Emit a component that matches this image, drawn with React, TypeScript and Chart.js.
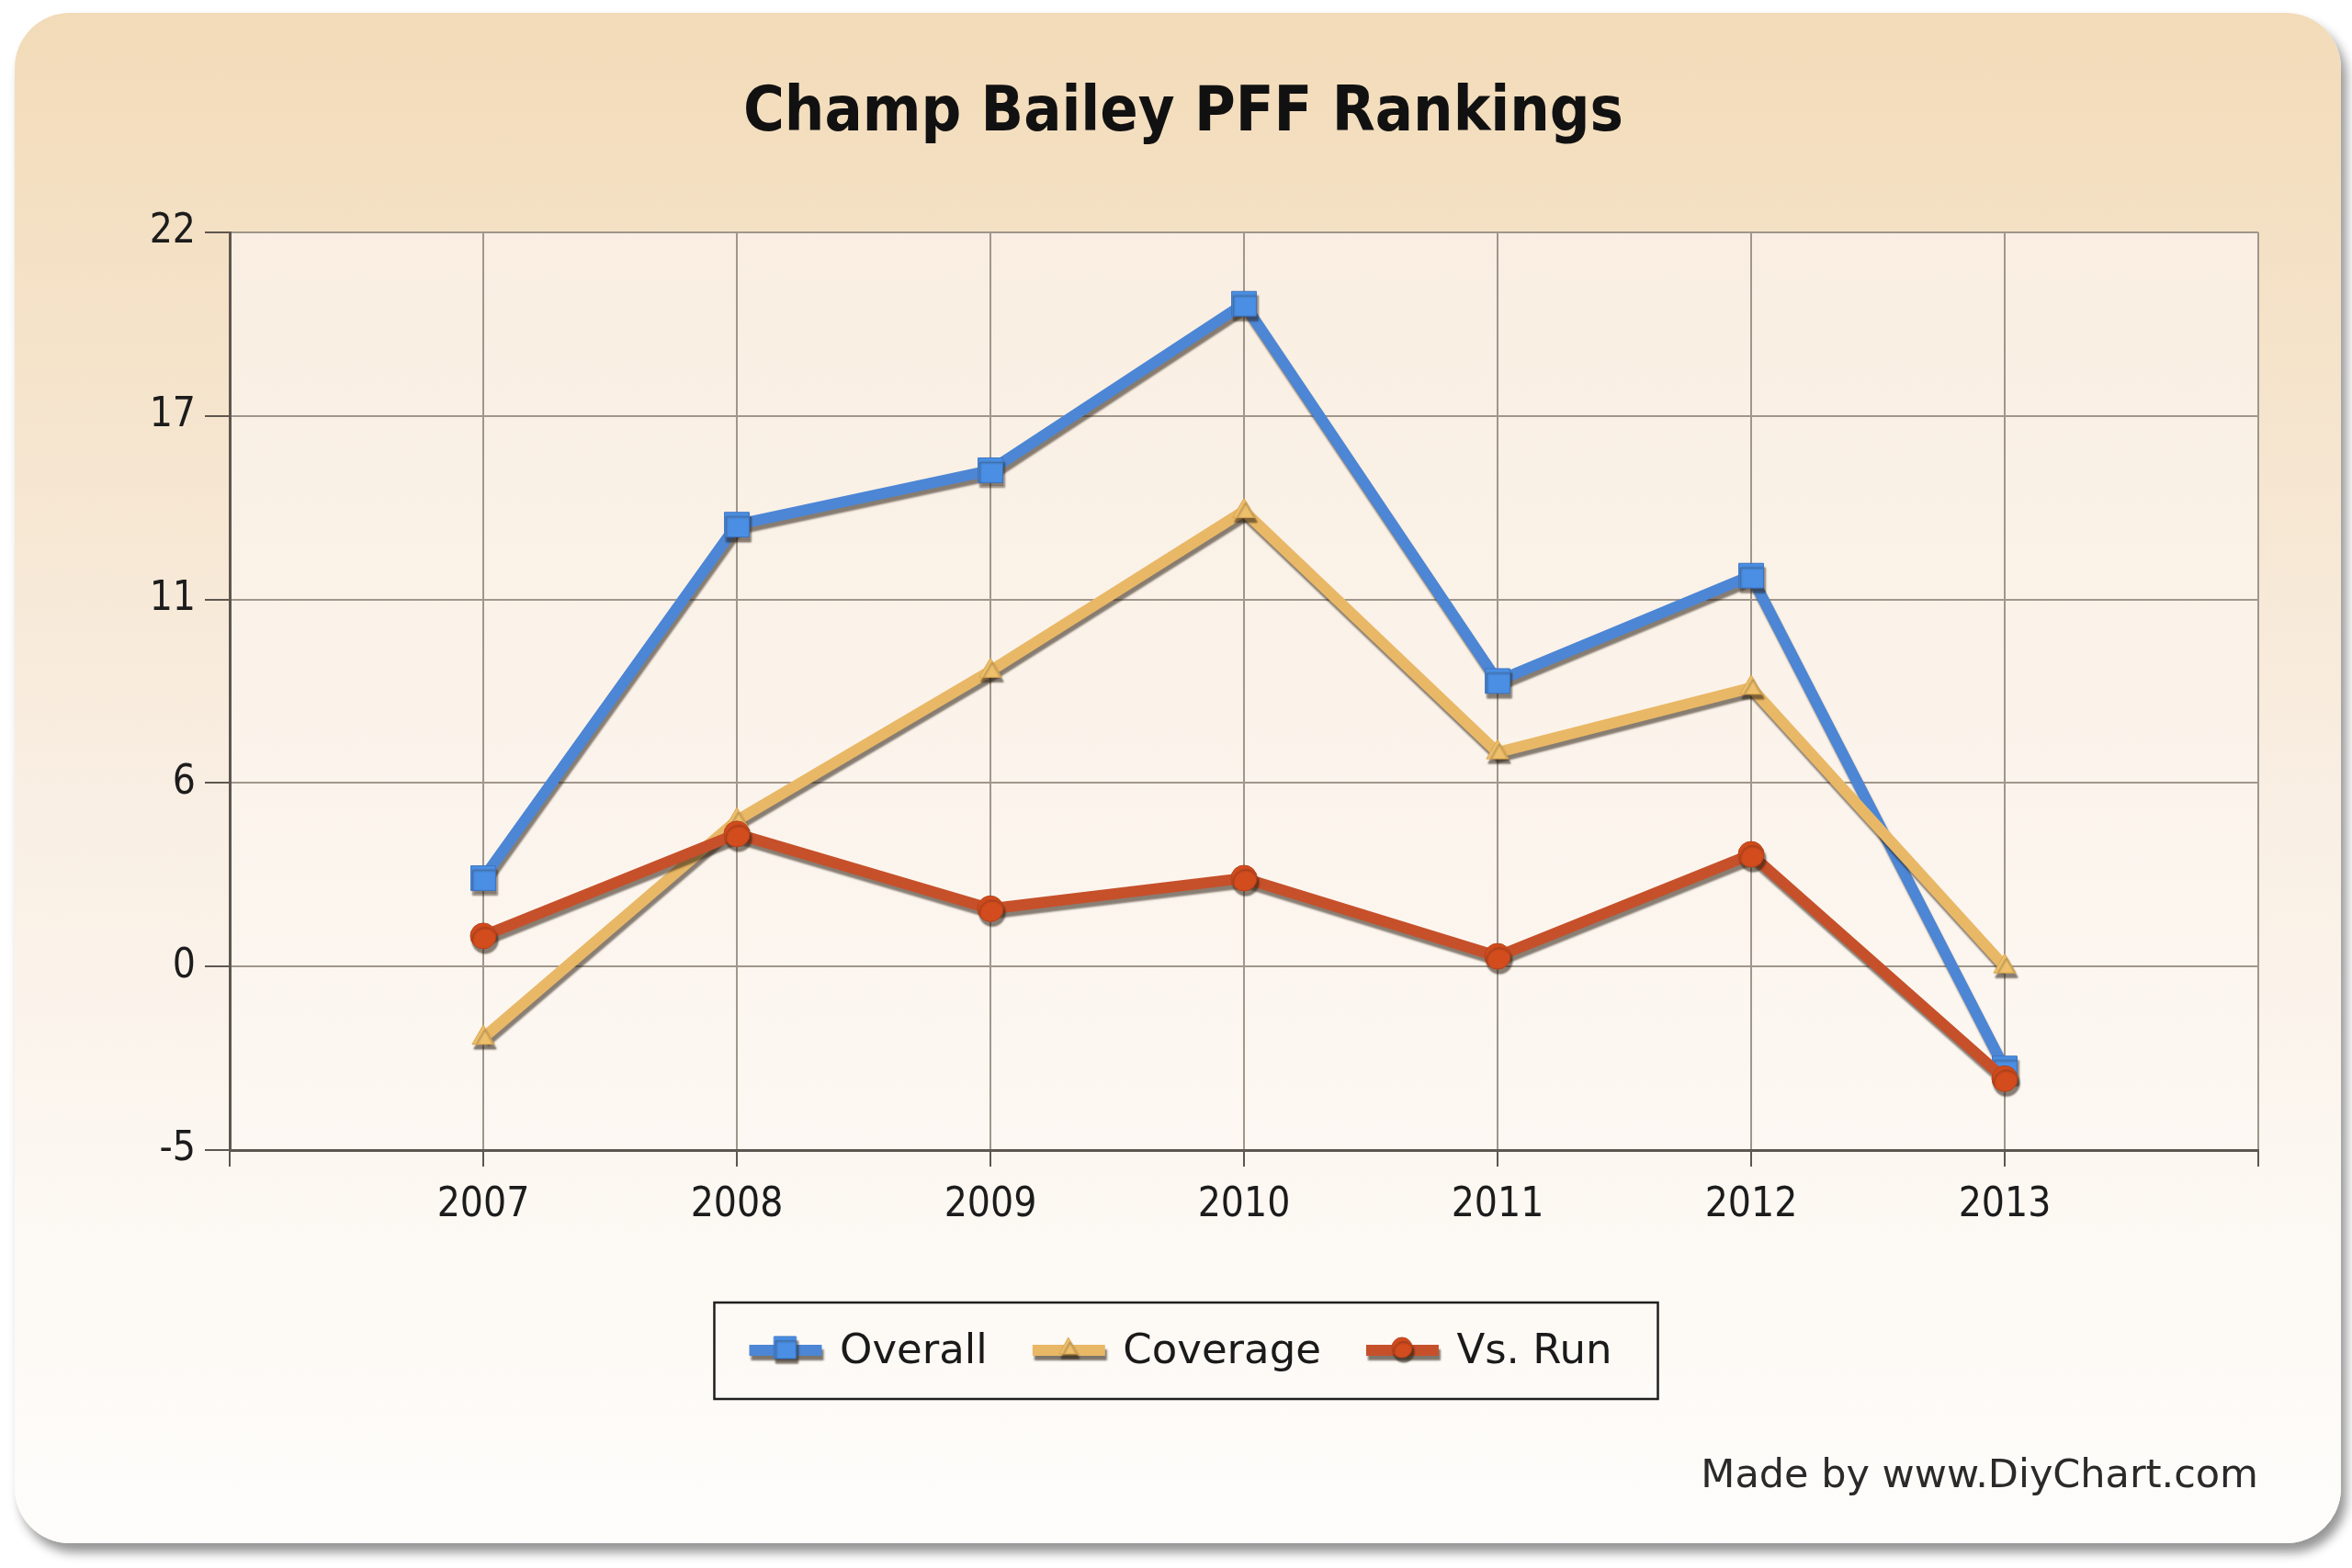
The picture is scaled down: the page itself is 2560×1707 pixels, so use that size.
import React, { useEffect, useRef } from 'react';
import { Chart, registerables } from 'chart.js';

Chart.register(...registerables);

// ---- data ----
const years = [2007, 2008, 2009, 2010, 2011, 2012, 2013];
const xTickLabels = ['2007', '2008', '2009', '2010', '2011', '2012', '2013'];
const yTickLabels = ['-5', '0', '6', '11', '17', '22'];
const seriesNames = ['Overall', 'Coverage', 'Vs. Run'];
const overall = [3.0, 13.4, 15.0, 19.9, 8.8, 11.9, -2.6];
const coverage = [-1.7, 4.7, 9.1, 13.8, 6.7, 8.6, 0.4];
const vsRun = [1.3, 4.3, 2.1, 3.0, 0.7, 3.7, -2.9];

const titleText = 'Champ Bailey PFF Rankings';
const footerText = 'Made by www.DiyChart.com';

const COND = '"DejaVu Sans Condensed", "DejaVu Sans", sans-serif';
const SANS = '"DejaVu Sans", Verdana, sans-serif';

const lineColors = ['#4c86d5', '#e9b866', '#c6502a'];
const markerFill = ['#4a8fe4', '#efc06c', '#d24c1e'];
const markerBorder = ['#3d73c0', '#d9a550', '#b4421a'];
const markerStyles = ['rect', 'triangle', 'circle'];
const markerRadius = [19, 14, 14];

function makeSymbol(i: number): HTMLCanvasElement {
  const c = document.createElement('canvas');
  c.width = 88;
  c.height = 48;
  const g = c.getContext('2d')!;
  g.shadowColor = 'rgba(40,28,15,0.6)';
  g.shadowOffsetX = 2;
  g.shadowOffsetY = 5;
  g.shadowBlur = 2;
  g.strokeStyle = lineColors[i];
  g.lineWidth = 12;
  g.beginPath();
  g.moveTo(3, 22);
  g.lineTo(82, 22);
  g.stroke();
  g.fillStyle = markerFill[i];
  g.strokeStyle = markerBorder[i];
  g.lineWidth = 1;
  const cx = 42, cy = 19;
  g.beginPath();
  if (markerStyles[i] === 'rect') {
    g.rect(cx - 12, cy - 12, 24, 24);
  } else if (markerStyles[i] === 'triangle') {
    g.moveTo(cx, cy - 11);
    g.lineTo(cx + 10, cy + 7);
    g.lineTo(cx - 10, cy + 7);
    g.closePath();
  } else {
    g.arc(cx, cy, 11, 0, Math.PI * 2);
  }
  g.fill();
  g.stroke();
  return c;
}

const plotBg = {
  id: 'plotBg',
  beforeDraw(chart: any) {
    const { ctx, chartArea: a } = chart;
    const g = ctx.createLinearGradient(0, a.top, 0, a.bottom);
    g.addColorStop(0, '#f9eee1');
    g.addColorStop(1, '#fdf8f3');
    ctx.save();
    ctx.fillStyle = g;
    ctx.fillRect(a.left, a.top, a.right - a.left, a.bottom - a.top);
    ctx.restore();
  },
};

const lineShadow = {
  id: 'lineShadow',
  beforeDatasetDraw(chart: any) {
    const c = chart.ctx;
    c.save();
    c.shadowColor = 'rgba(40,28,15,0.55)';
    c.shadowOffsetX = 2;
    c.shadowOffsetY = 5;
    c.shadowBlur = 2;
  },
  afterDatasetDraw(chart: any) {
    chart.ctx.restore();
  },
};

const legendFrame = {
  id: 'legendFrame',
  afterDraw(chart: any) {
    const hb = chart.legend && chart.legend.legendHitBoxes;
    if (!hb || !hb.length) return;
    const left = Math.min(...hb.map((h: any) => h.left)) - 44;
    const right = Math.max(...hb.map((h: any) => h.left + h.width)) + 50;
    const cy = hb[0].top + hb[0].height / 2;
    const ctx = chart.ctx;
    ctx.save();
    ctx.strokeStyle = '#1f1f1f';
    ctx.lineWidth = 2.5;
    ctx.strokeRect(left, cy - 54, right - left, 105);
    ctx.restore();
  },
};

export default function App() {
  const ref = useRef<HTMLCanvasElement>(null);

  useEffect(() => {
    const canvas = ref.current!;
    const symbols = [0, 1, 2].map(makeSymbol);
    const seriesValues = [overall, coverage, vsRun];
    const orders = [3, 2, 1];

    const chart = new Chart(canvas, {
      type: 'line',
      data: {
        datasets: seriesValues.map((vals, i) => ({
          label: seriesNames[i],
          data: years.map((x, j) => ({ x, y: vals[j] })),
          borderColor: lineColors[i],
          borderWidth: 12,
          tension: 0,
          fill: false,
          pointStyle: markerStyles[i] as any,
          pointRadius: markerRadius[i],
          pointBackgroundColor: markerFill[i],
          pointBorderColor: markerBorder[i],
          pointBorderWidth: 1,
          order: orders[i],
        })),
      },
      options: {
        animation: false,
        responsive: false,
        events: [],
        layout: { padding: { left: 118, right: 102, top: 0, bottom: 0 } },
        scales: {
          x: {
            type: 'linear',
            min: 2006,
            max: 2014,
            afterFit: (s: any) => { s.height = 142.5; },
            ticks: {
              stepSize: 1,
              autoSkip: false,
              maxRotation: 0,
              padding: 16,
              color: '#1c1c1c',
              font: { family: COND, size: 44 },
              callback: (v: any) => {
                const i = years.indexOf(Number(v));
                return i >= 0 ? xTickLabels[i] : '';
              },
            },
            grid: {
              color: '#a0968c',
              lineWidth: 2,
              tickLength: 18,
              tickColor: '#5e5650',
              tickWidth: 2,
            },
            border: { color: '#5e5650', width: 3 },
          },
          y: {
            type: 'linear',
            min: -5,
            max: 22,
            afterFit: (s: any) => { s.width = 132; },
            ticks: {
              stepSize: 5.4,
              padding: 10,
              color: '#1c1c1c',
              font: { family: COND, size: 44 },
              callback: (_v: any, idx: number) => yTickLabels[idx] ?? '',
            },
            grid: {
              color: '#a0968c',
              lineWidth: 2,
              tickLength: 27,
              tickColor: '#5e5650',
              tickWidth: 2,
            },
            border: { color: '#5e5650', width: 3 },
          },
        },
        plugins: {
          title: {
            display: true,
            text: titleText,
            color: '#111111',
            font: { family: COND, size: 68, weight: 'bold' },
            padding: { top: 84, bottom: 87.4 },
          },
          subtitle: {
            display: true,
            text: footerText,
            position: 'bottom',
            align: 'end',
            color: '#2a2a2a',
            font: { family: SANS, size: 43, weight: 'normal' },
            padding: { top: 77.7, bottom: 73.2 },
          },
          legend: {
            display: true,
            position: 'bottom',
            labels: {
              usePointStyle: true,
              pointStyleWidth: 70,
              padding: 55,
              color: '#1a1a1a',
              font: { family: SANS, size: 45 },
              generateLabels: (ch: any) =>
                ch.data.datasets.map((ds: any, i: number) => ({
                  text: ds.label,
                  pointStyle: symbols[i],
                  fillStyle: 'transparent',
                  strokeStyle: 'transparent',
                  lineWidth: 0,
                  hidden: false,
                  datasetIndex: i,
                  fontColor: '#1a1a1a',
                })),
            },
          },
          tooltip: { enabled: false },
        },
      },
      plugins: [plotBg, lineShadow, legendFrame],
    } as any);

    return () => chart.destroy();
  }, []);

  return (
    <div
      style={{
        position: 'fixed',
        left: 0,
        top: 0,
        width: 2560,
        height: 1707,
        background: '#ffffff',
        overflow: 'hidden',
      }}
    >
      <div
        style={{
          position: 'absolute',
          left: 16,
          top: 14,
          width: 2532,
          height: 1666,
          borderRadius: 60,
          background:
            'linear-gradient(to bottom, #f2dbb8 0%, #f5e3ca 22%, #f9eee2 50%, #fcf7f1 75%, #fefdfb 100%)',
          boxShadow: '6px 10px 12px rgba(0,0,0,0.42)',
        }}
      />
      <canvas
        ref={ref}
        width={2560}
        height={1707}
        style={{ position: 'absolute', left: 0, top: 0, width: 2560, height: 1707 }}
      />
    </div>
  );
}
